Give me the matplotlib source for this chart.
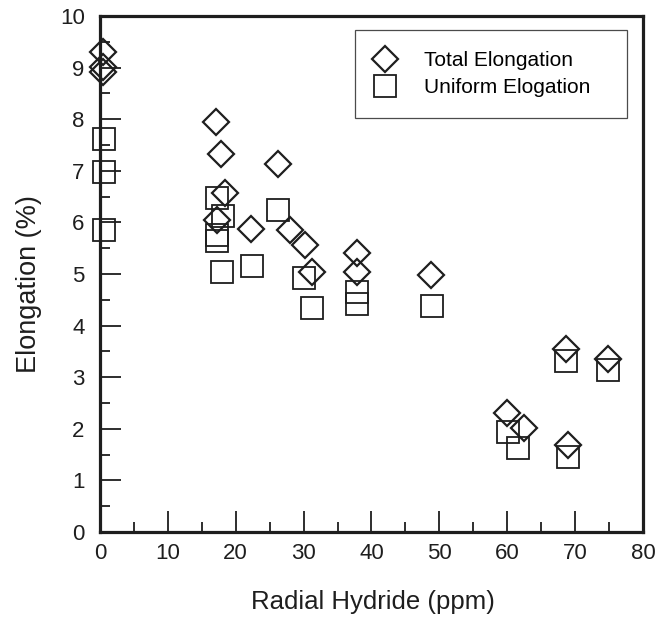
import numpy as np
import matplotlib.pyplot as plt
from matplotlib.ticker import MultipleLocator

plt.rcParams['font.family'] = ['Liberation Sans', 'DejaVu Sans']

# Allongement total (losanges)
total_x = [0.4, 0.4, 0.4, 17.1, 17.9, 18.4, 17.2, 22.2, 26.2, 28.0, 30.2, 31.3,
           37.8, 37.8, 48.8, 68.7, 74.8, 60.0, 62.4, 69.0]
total_y = [9.30, 9.01, 8.91, 7.95, 7.33, 6.56, 6.05, 5.87, 7.14, 5.85, 5.56, 5.03,
           5.40, 5.03, 4.98, 3.54, 3.35, 2.30, 2.01, 1.69]

# Allongement uniforme (carrés)
unif_x = [0.6, 0.6, 0.6, 17.3, 18.1, 17.2, 17.2, 18.0, 22.4, 26.3, 30.1, 31.3,
          37.8, 37.8, 48.9, 68.7, 74.9, 60.1, 61.6, 69.0]
unif_y = [7.61, 6.98, 5.85, 6.47, 6.12, 5.75, 5.63, 5.03, 5.16, 6.24, 4.92, 4.34,
          4.65, 4.41, 4.38, 3.32, 3.14, 1.94, 1.62, 1.46]

couleur = '#1e1e1e'

fig = plt.figure(figsize=(6.59, 6.24), dpi=100)
ax = fig.add_axes([0.1517, 0.1474, 0.8240, 0.8270])

ax.plot(total_x, total_y, linestyle='none', marker='D', markersize=13.5,
        markerfacecolor='none', markeredgecolor=couleur, markeredgewidth=1.6,
        label='Total Elongation', clip_on=False)
ax.plot(unif_x, unif_y, linestyle='none', marker='s', markersize=16,
        markerfacecolor='none', markeredgecolor=couleur, markeredgewidth=1.3,
        label='Uniform Elogation', clip_on=False)

ax.set_xlim(0, 80)
ax.set_ylim(0, 10)
ax.xaxis.set_major_locator(MultipleLocator(10))
ax.xaxis.set_minor_locator(MultipleLocator(5))
ax.yaxis.set_major_locator(MultipleLocator(1))
ax.yaxis.set_minor_locator(MultipleLocator(0.5))

# Graduations vers l'intérieur, seulement à gauche et en bas
ax.tick_params(which='major', direction='in', length=15, width=1.3,
               labelsize=16, colors=couleur)
ax.tick_params(which='minor', direction='in', length=7, width=1.3, colors=couleur)
ax.tick_params(axis='y', which='major', pad=11)
ax.tick_params(axis='x', which='major', pad=8)
ax.tick_params(top=False, right=False, which='both')

for s in ax.spines.values():
    s.set_linewidth(2.3)
    s.set_color(couleur)

ax.set_xlabel('Radial Hydride (ppm)', fontsize=18.5, color=couleur)
ax.set_ylabel('Elongation (%)', fontsize=19.5, color=couleur)
ax.xaxis.set_label_coords(0.503, -0.112)
ax.yaxis.set_label_coords(-0.107, 0.48)

leg = ax.legend(loc='upper left', bbox_to_anchor=(0.470, 0.6, 0.5005, 0.3729),
                mode='expand', fontsize=15, frameon=True, fancybox=False,
                handlelength=0.9, handletextpad=1.4, borderpad=1.0,
                labelspacing=0.4, borderaxespad=0.0)
leg.get_frame().set_edgecolor(couleur)
leg.get_frame().set_linewidth(0.9)

fig.savefig('out.png', dpi=100)
